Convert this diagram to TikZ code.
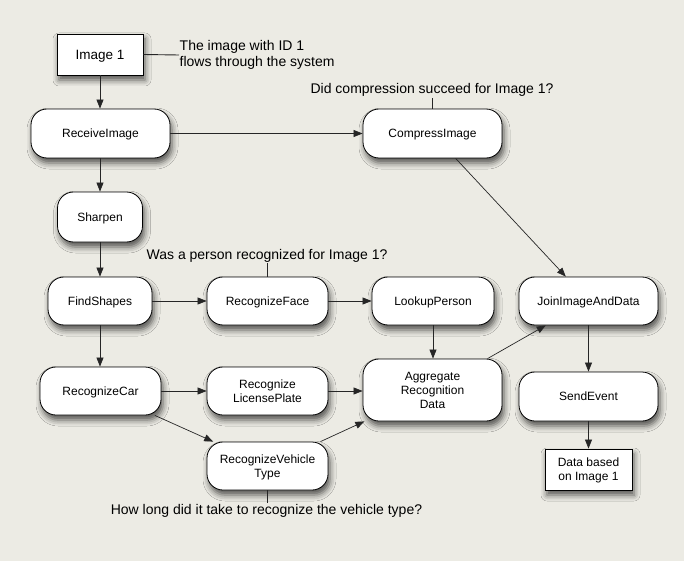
\documentclass[tikz,border=0pt]{standalone}
\usepackage{fontspec}
\setmainfont{Liberation Sans}
\usetikzlibrary{arrows.meta,shadows.blur}
\definecolor{bg}{RGB}{236,235,228}
\begin{document}
\begin{tikzpicture}[x=1pt,y=-1pt,
  shad/.style={blur shadow={shadow xshift=2pt, shadow yshift=-5pt, shadow blur radius=6pt, shadow opacity=65}},
  proc/.style={draw=black, line width=0.8pt, fill=white, rounded corners=16pt,
    minimum height=48pt, align=center, inner sep=2pt, text depth=0pt,
    font=\fontsize{12}{14}\selectfont, shad},
  datab/.style={draw=black, line width=0.8pt, fill=white, align=center, inner sep=2pt, text depth=0pt, shad},
  ann/.style={font=\fontsize{14}{16}\selectfont, inner sep=0.5pt, align=left},
  arr/.style={-{Triangle[length=9pt,width=7pt]}, line width=0.7pt, draw=black!85},
  tie/.style={line width=0.9pt, draw=black!85}]
\fill[bg] (0,0) rectangle (684,561);
\useasboundingbox (0,0) rectangle (684,561);

% nodes
\node[datab, minimum width=86pt, minimum height=41pt, font=\fontsize{13.5}{15}\selectfont] (img) at (100,54.5) {Image 1};
\node[proc, minimum width=139pt, minimum height=49pt] (ri) at (100.5,133.5) {ReceiveImage};
\node[proc, minimum width=85pt, minimum height=50pt] (sh) at (100,217) {Sharpen};
\node[proc, minimum width=104pt] (fs) at (100,301) {FindShapes};
\node[proc, minimum width=121pt] (rc) at (100.5,391) {RecognizeCar};
\node[proc, minimum width=121pt] (rf) at (267.5,301) {RecognizeFace};
\node[proc, minimum width=121pt] (rlp) at (267.5,391) {Recognize\\LicensePlate};
\node[proc, minimum width=121pt] (rvt) at (267.5,466) {RecognizeVehicle\\Type};
\node[proc, minimum width=139pt, minimum height=49pt] (ci) at (432.5,133.5) {CompressImage};
\node[proc, minimum width=122pt] (lp) at (433,301) {LookupPerson};
\node[proc, minimum width=139pt] (jd) at (588.5,301) {JoinImageAndData};
\node[proc, minimum width=139pt, minimum height=62pt] (ag) at (432.5,390) {Aggregate\\Recognition\\Data};
\node[proc, minimum width=139pt, minimum height=49pt] (se) at (588.5,396.5) {SendEvent};
\node[datab, minimum width=87pt, minimum height=41pt, font=\fontsize{12}{14}\selectfont] (db) at (588.5,469.5) {Data based\\on Image 1};

% annotations
\node[ann, anchor=west] (a1) at (179,55) {The image with ID 1\\flows through the system};
\node[ann, anchor=base] (a2) at (432,94) {Did compression succeed for Image 1?};
\node[ann, anchor=base] (a3) at (267,259) {Was a person recognized for Image 1?};
\node[ann, anchor=base] (a4) at (266.5,514) {How long did it take to recognize the vehicle type?};

\draw[tie] (img.east) -- (a1.west);
\draw[tie] (ci.north) -- (ci.north |- a2.south);
\draw[tie] (rf.north) -- (rf.north |- a3.south);
\draw[tie] (rvt.south) -- (rvt.south |- a4.north);

% connectors
\draw[arr] (img.south) -- (img.south |- ri.north);
\draw[arr] (ri.east) -- (ci.west);
\draw[arr] (ri.south -| sh.north) -- (sh.north);
\draw[arr] (sh.south) -- (fs.north);
\draw[arr] (fs.east) -- (rf.west);
\draw[arr] (fs.south) -- (fs.south |- rc.north);
\draw[arr] (rf.east) -- (lp.west);
\draw[arr] (lp.south) -- (lp.south |- ag.north);
\draw[arr] (rc.east) -- (rlp.west);
\draw[arr] (rc) -- (rvt);
\draw[arr] (rlp.east) -- (rlp.east -| ag.west);
\draw[arr] (rvt) -- (ag);
\draw[arr] (ag) -- (jd);
\draw[arr] (ci) -- (jd);
\draw[arr] (jd) -- (se);
\draw[arr] (se) -- (db);
\end{tikzpicture}
\end{document}
